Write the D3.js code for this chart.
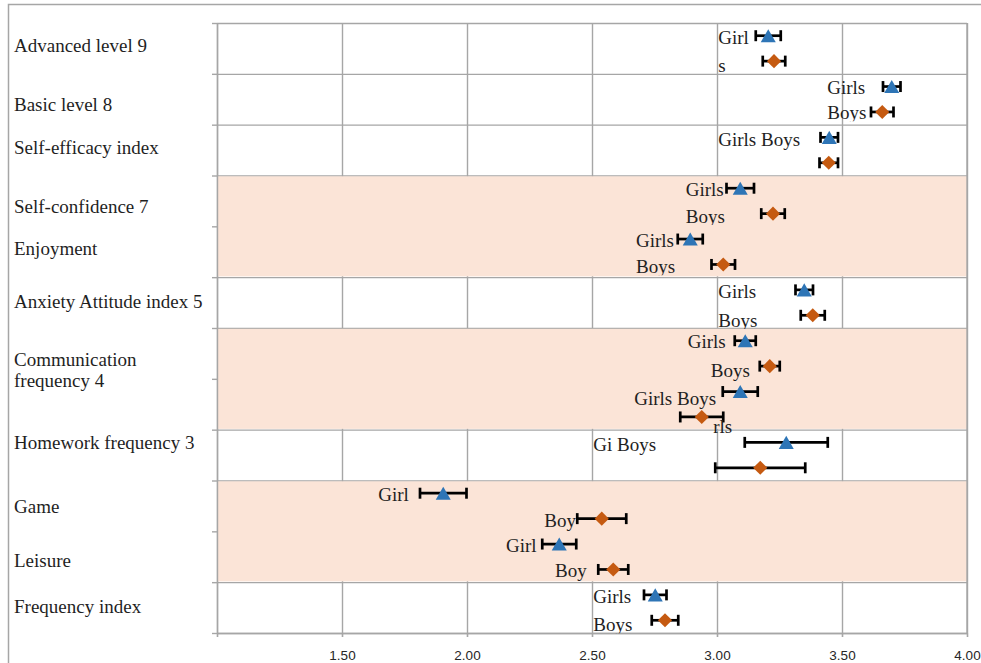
<!DOCTYPE html>
<html>
<head>
<meta charset="utf-8">
<script src="https://cdn.jsdelivr.net/npm/d3@7"></script>
<style>
  body { margin: 0; background: #fff; }
  svg { display: block; }
  text { font-family: "Liberation Serif", "Times New Roman", serif; }
</style>
</head>
<body>
<div id="chart"></div>
<script>
'use strict';

// one entry per row of the plot, top to bottom
var rows = ['r0', 'r1', 'r2', 'r3', 'r4', 'r5', 'r6', 'r7', 'r8', 'r9', 'r10', 'r11'];
var seriesNames = ['Girls', 'Boys'];

var girlsMean = [3.205, 3.699, 3.449, 3.093, 2.893, 3.349, 3.113, 3.093, 3.277, 1.905, 2.369, 2.753];
var girlsErr = [0.050, 0.035, 0.035, 0.055, 0.050, 0.035, 0.042, 0.070, 0.166, 0.093, 0.068, 0.045];
var boysMean = [3.228, 3.661, 3.447, 3.224, 3.025, 3.383, 3.211, 2.939, 3.173, 2.539, 2.585, 2.792];
var boysErr = [0.045, 0.045, 0.037, 0.047, 0.047, 0.048, 0.040, 0.086, 0.180, 0.098, 0.060, 0.053];

// shaded bands as [first row, row after last]
var shadedRows = [[3, 5], [6, 8], [9, 11]];

var xTicks = [1, 1.5, 2, 2.5, 3, 3.5, 4];

// text on the left, baseline in row units
var rowLabels = ['Advanced level 9', 'Basic level 8', 'Self-efficacy index', 'Self-confidence 7',
  'Enjoyment', 'Anxiety Attitude index 5', 'Communication\nfrequency 4', 'Homework frequency 3',
  'Game', 'Leisure', 'Frequency index'];
var rowLabelAt = [0.565, 1.731, 2.577, 3.738, 4.564, 5.607, 6.738, 8.381, 9.634, 10.708, 11.610];

// data labels inside the plot: text, x value, baseline in row units, descender cut off
var pointLabels = [
  ['Girl', 3.005, 0.419, false],
  ['s', 3.005, 0.958, false],
  ['Girls', 3.441, 1.403, false],
  ['Boys', 3.441, 1.889, true],
  ['Girls Boys', 3.005, 2.414, false],
  ['Girls', 2.875, 3.404, false],
  ['Boys', 2.875, 3.929, true],
  ['Girls', 2.676, 4.401, false],
  ['Boys', 2.676, 4.918, true],
  ['Girls', 3.005, 5.410, false],
  ['Boys', 3.005, 5.975, true],
  ['Girls', 2.883, 6.394, false],
  ['Boys', 2.975, 6.958, false],
  ['Girls Boys', 2.669, 7.515, false],
  ['rls', 2.985, 8.060, false],
  ['Gi Boys', 2.505, 8.420, false],
  ['Girl', 1.645, 9.398, false],
  ['Boy', 2.309, 9.909, false],
  ['Girl', 2.156, 10.401, false],
  ['Boy', 2.352, 10.893, false],
  ['Girls', 2.505, 11.417, false],
  ['Boys', 2.505, 11.961, true]
];

function errorChart() {

  var scope = this;
  var exports = {};

  scope.margins = { top: 23, right: 14, bottom: 30, left: 217 };
  scope.width = 981 - scope.margins.left - scope.margins.right;
  scope.height = 663 - scope.margins.top - scope.margins.bottom;

  scope.gridColor = '#a6a6a6';
  scope.bandColor = '#fbe4d7';
  scope.colors = { Girls: '#2e75b6', Boys: '#c55a11' };

  scope.xScale = d3.scaleLinear().domain([1, 4]).range([0, scope.width]);
  scope.rowScale = d3.scaleLinear().domain([0, rows.length]).range([0, scope.height]);
  scope.yBand = d3.scaleBand().domain(rows).range([0, scope.height]);
  scope.ySeries = d3.scaleBand().domain(seriesNames).range([0, scope.yBand.bandwidth()]);

  scope.series = [
    { name: 'Girls', mean: girlsMean, err: girlsErr },
    { name: 'Boys', mean: boysMean, err: boysErr }
  ];

  scope.appendSVG = function(DOMObj) {
    return d3.select(DOMObj)
      .append('svg')
      .attr('width', 981)
      .attr('height', 663);
  }

  scope.appendFrame = function(svgRef) {
    svgRef.append('path')
      .attr('d', 'M8.5,663V4.5H981')
      .attr('fill', 'none')
      .attr('stroke', scope.gridColor)
      .attr('stroke-width', 1.5);
  }

  scope.appendGrid = function(g) {
    g.append('g')
      .attr('class', 'grid grid--x')
      .attr('transform', 'translate(0,' + scope.height + ')')
      .call(d3.axisBottom(scope.xScale).tickValues(xTicks).tickSize(-scope.height).tickFormat(''));

    g.append('g')
      .attr('class', 'grid grid--y')
      .call(d3.axisLeft(scope.rowScale).tickValues(d3.range(0, rows.length + 1)).tickSize(-scope.width).tickFormat(''));

    g.selectAll('.grid .domain').remove();
    g.selectAll('.grid line')
      .attr('stroke', scope.gridColor)
      .attr('stroke-width', 1.4);
  }

  scope.appendBands = function(g) {
    g.selectAll('.band')
      .data(shadedRows)
      .enter()
      .append('rect')
      .attr('class', 'band')
      .attr('x', 1)
      .attr('y', function(d) { return scope.rowScale(d[0]) + 0.8; })
      .attr('width', scope.width - 1)
      .attr('height', function(d) { return scope.rowScale(d[1]) - scope.rowScale(d[0]) - 1.6; })
      .attr('fill', scope.bandColor);

    // right edge stays visible over the bands
    g.append('line')
      .attr('x1', scope.xScale(4)).attr('x2', scope.xScale(4))
      .attr('y1', 0).attr('y2', scope.height)
      .attr('stroke', scope.gridColor)
      .attr('stroke-width', 1.4);
  }

  scope.appendAxes = function(g) {
    var xAxis = d3.axisBottom(scope.xScale)
      .tickValues(xTicks)
      .tickSizeInner(4)
      .tickSizeOuter(0)
      .tickPadding(13)
      .tickFormat(function(d) { return d === 1 ? '' : d3.format('.2f')(d); });

    var xg = g.append('g')
      .attr('class', 'axis axis--x')
      .attr('transform', 'translate(0,' + scope.height + ')')
      .call(xAxis);

    xg.selectAll('line, path').attr('stroke', scope.gridColor).attr('stroke-width', 1.6);
    xg.selectAll('text')
      .style('font-family', '"Liberation Sans", Arial, sans-serif')
      .style('font-size', '13.5px')
      .attr('fill', '#262626');

    var yAxis = d3.axisLeft(scope.rowScale)
      .tickValues(d3.range(0, rows.length + 1))
      .tickSizeInner(5)
      .tickSizeOuter(0)
      .tickFormat('');

    var yg = g.append('g')
      .attr('class', 'axis axis--y')
      .call(yAxis);

    yg.selectAll('line, path').attr('stroke', scope.gridColor).attr('stroke-width', 1.4);
  }

  scope.pointY = function(row, name) {
    return scope.yBand(row) + scope.ySeries(name) + scope.ySeries.bandwidth() / 2;
  }

  scope.appendSeries = function(g) {
    var triSize = 98;
    var triShift = Math.sqrt(triSize / (3 * Math.sqrt(3))) / 2;
    var triangle = d3.symbol(d3.symbolTriangle, triSize);
    var diamond = d3.symbol(d3.symbolSquare, 100);

    var groups = g.selectAll('.series')
      .data(scope.series)
      .enter()
      .append('g')
      .attr('class', 'series');

    groups.each(function(s) {
      var pts = rows.map(function(r, i) {
        return { row: r, mean: s.mean[i], err: s.err[i] };
      });
      var sg = d3.select(this);

      var bars = sg.selectAll('.errbar')
        .data(pts)
        .enter()
        .append('g')
        .attr('class', 'errbar')
        .attr('stroke', '#000')
        .attr('stroke-width', 2.7);

      bars.append('line')
        .attr('x1', function(d) { return scope.xScale(d.mean - d.err); })
        .attr('x2', function(d) { return scope.xScale(d.mean + d.err); })
        .attr('y1', function(d) { return scope.pointY(d.row, s.name); })
        .attr('y2', function(d) { return scope.pointY(d.row, s.name); });

      [-1, 1].forEach(function(side) {
        bars.append('line')
          .attr('x1', function(d) { return scope.xScale(d.mean + side * d.err); })
          .attr('x2', function(d) { return scope.xScale(d.mean + side * d.err); })
          .attr('y1', function(d) { return scope.pointY(d.row, s.name) - 5.5; })
          .attr('y2', function(d) { return scope.pointY(d.row, s.name) + 5.5; });
      });

      sg.selectAll('.marker')
        .data(pts)
        .enter()
        .append('path')
        .attr('class', 'marker')
        .attr('d', s.name === 'Girls' ? triangle : diamond)
        .attr('transform', function(d) {
          var x = scope.xScale(d.mean);
          var y = scope.pointY(d.row, s.name);
          return s.name === 'Girls'
            ? 'translate(' + x + ',' + (y + triShift) + ')'
            : 'translate(' + x + ',' + y + ') rotate(45)';
        })
        .attr('fill', scope.colors[s.name]);
    });
  }

  scope.appendPointLabels = function(g) {
    var defs = g.append('defs');

    pointLabels.forEach(function(d, i) {
      var x = scope.xScale(d[1]);
      var y = scope.rowScale(d[2]);
      var t = g.append('text')
        .attr('x', x)
        .attr('y', y)
        .attr('fill', '#1f1f1f')
        .style('font-size', '19px')
        .text(d[0]);

      if (d[3]) {
        defs.append('clipPath')
          .attr('id', 'lab' + i)
          .append('rect')
          .attr('x', x - 2).attr('y', y - 24)
          .attr('width', 120).attr('height', 26.2);
        t.attr('clip-path', 'url(#lab' + i + ')');
      }
    });
  }

  scope.appendRowLabels = function(g) {
    rowLabels.forEach(function(label, i) {
      var t = g.append('text')
        .attr('x', 14 - scope.margins.left)
        .attr('y', scope.rowScale(rowLabelAt[i]))
        .attr('fill', '#1f1f1f')
        .style('font-size', '19px');

      label.split('\n').forEach(function(line, j) {
        t.append('tspan')
          .attr('x', 14 - scope.margins.left)
          .attr('dy', j === 0 ? 0 : 21.2)
          .text(line);
      });
    });
  }

  exports.run = function(DOMObj) {
    var svgRef = scope.appendSVG(DOMObj);
    scope.appendFrame(svgRef);

    var g = svgRef.append('g')
      .attr('transform', 'translate(' + scope.margins.left + ',' + scope.margins.top + ')');

    scope.appendGrid(g);
    scope.appendBands(g);
    scope.appendAxes(g);
    scope.appendSeries(g);
    scope.appendPointLabels(g);
    scope.appendRowLabels(g);
  }

  return exports;
}

errorChart.call({}).run(document.getElementById('chart'));
</script>
</body>
</html>
